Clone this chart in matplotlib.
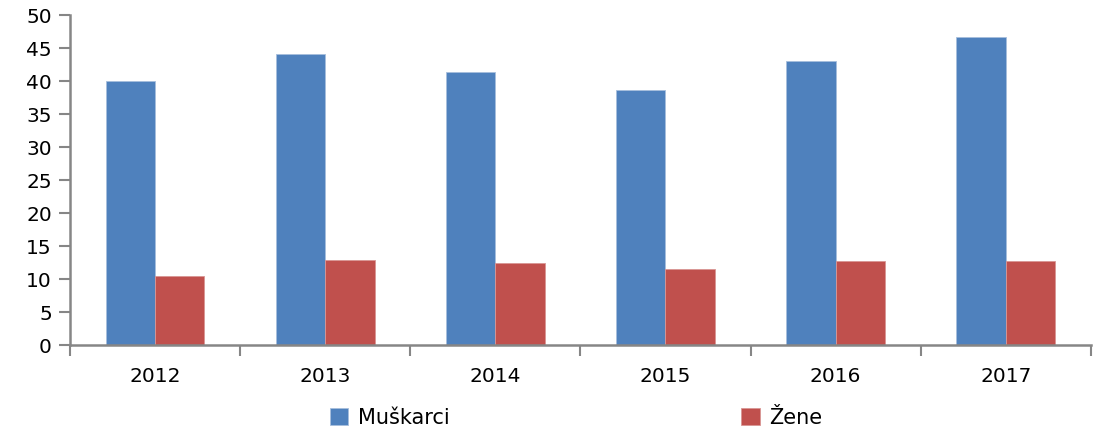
'''Grouped bar chart of men and women by year.'''

import numpy as np
import matplotlib.pyplot as plt

# Data
years=['2012', '2013', '2014', '2015', '2016', '2017']
muskarci=[40.0, 44.1, 41.4, 38.7, 43.1, 46.7]
zene=[10.5, 12.9, 12.4, 11.5, 12.7, 12.7]

BLUE='#4F81BD'
RED='#C0504D'
AXIS_GRAY='#868686'


def plot_data():
    '''Draws the grouped bars and saves the figure as png.'''

    fig=plt.figure(figsize=(10.93, 4.32), dpi=100)
    ax=fig.add_axes([0.064, 0.201, 0.934, 0.764])

    x=np.arange(len(years))
    width=0.29

    ax.bar(x - width / 2, muskarci, width, color=BLUE, label='Muškarci',
           edgecolor='#A7BEDC', linewidth=0.6)
    ax.bar(x + width / 2, zene, width, color=RED, label='Žene',
           edgecolor='#D99694', linewidth=0.6)

    ax.set_xlim(-0.5, len(years) - 0.5)
    ax.set_ylim(0, 50)
    ax.set_yticks(range(0, 51, 5))

    # Category labels centred, ticks on group boundaries
    ax.set_xticks(x)
    ax.set_xticklabels(years, fontsize=14.5)
    ax.set_xticks(np.arange(-0.5, len(years), 1.0), minor=True)
    ax.tick_params(axis='x', which='major', length=0, pad=16)
    ax.tick_params(axis='x', which='minor', length=8, width=1.5,
                   color=AXIS_GRAY, direction='out')
    ax.tick_params(axis='y', length=8, width=1.5, color=AXIS_GRAY,
                   direction='out', labelsize=14.5, pad=5)

    for side in ['top', 'right']:
        ax.spines[side].set_visible(False)
    for side in ['left', 'bottom']:
        ax.spines[side].set_color(AXIS_GRAY)
        ax.spines[side].set_linewidth(1.8)

    fig.legend(loc='center', bbox_to_anchor=(0.527, 0.033), ncol=2,
               frameon=False, fontsize=15, handlelength=0.9,
               handleheight=0.9, handletextpad=0.45, columnspacing=14.0)

    fig.savefig('out.png', dpi=100)


if __name__ == "__main__":
    plot_data()
